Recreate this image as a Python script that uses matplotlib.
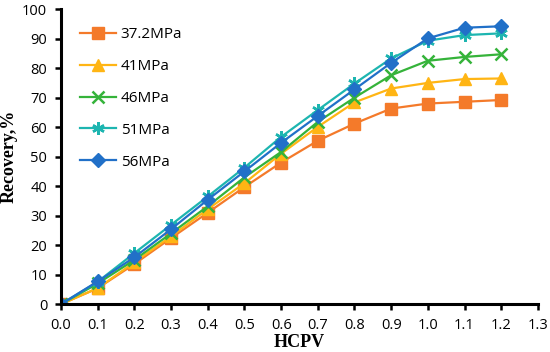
import numpy as np
import matplotlib
matplotlib.use("Agg")
import matplotlib.pyplot as plt

hcpv = [0.0, 0.1, 0.2, 0.3, 0.4, 0.5, 0.6, 0.7, 0.8, 0.9, 1.0, 1.1, 1.2]
rec_372 = [0, 5.4, 13.6, 22.4, 31.0, 39.7, 48.0, 55.4, 61.2, 66.3, 68.0, 68.6, 69.2]
rec_41 = [0, 5.4, 14.2, 23.0, 32.2, 41.0, 51.0, 60.1, 68.4, 73.1, 75.0, 76.3, 76.5]
rec_46 = [0, 7.0, 15.0, 24.0, 33.2, 43.0, 51.6, 61.8, 70.0, 77.6, 82.5, 83.8, 84.7]
rec_51 = [0, 7.6, 17.3, 26.9, 36.5, 46.3, 56.7, 65.8, 74.8, 83.3, 89.3, 91.2, 91.8]
rec_56 = [0, 7.7, 15.9, 25.4, 35.4, 45.0, 54.7, 63.8, 72.8, 81.8, 90.1, 93.7, 94.2]
labels = ["37.2MPa", "41MPa", "46MPa", "51MPa", "56MPa"]

series = [rec_372, rec_41, rec_46, rec_51, rec_56]
colors = ["#F47A2A", "#FFB514", "#35B33A", "#1DB5B0", "#2170C8"]
markers = ["s", "^", "x", (6, 2, 0), "D"]
msizes = [8, 8, 8, 9, 7]

plt.rcParams["font.family"] = ["Open Sans", "DejaVu Sans"]
fig = plt.figure(figsize=(5.5, 3.52), dpi=100)
ax = fig.add_axes([0.111, 0.136, 0.867, 0.838])

for y, lab, c, m, ms in zip(series, labels, colors, markers, msizes):
    ax.plot(hcpv, y, color=c, marker=m, markersize=ms, lw=1.6,
            markeredgewidth=1.8 if m in ("x", (6, 2, 0)) else 1.0,
            label=lab)

ax.set_xlim(0, 1.3)
ax.set_ylim(0, 100)
ax.set_xticks(np.arange(0, 1.31, 0.1))
ax.set_xticklabels(["%.1f" % v for v in np.arange(0, 1.31, 0.1)])
ax.set_yticks(range(0, 101, 10))
ax.tick_params(direction="out", width=1.8, length=4, labelsize=10.5, colors="black")
ax.tick_params(axis="x", pad=6)
ax.tick_params(axis="y", pad=6)
for s in ["top", "right"]:
    ax.spines[s].set_visible(False)
for s in ["left", "bottom"]:
    ax.spines[s].set_linewidth(2.2)

ax.set_xlabel("HCPV", fontsize=13, fontweight="bold", family="Liberation Serif", labelpad=1)
ax.set_ylabel("Recovery,%", fontsize=13, fontweight="bold", family="Liberation Serif", labelpad=3)

ax.legend(loc="upper left", bbox_to_anchor=(0.01, 0.985), frameon=False, fontsize=11,
          handlelength=2.4, labelspacing=1.1, handletextpad=0.3)

fig.savefig("out.png", dpi=100)
